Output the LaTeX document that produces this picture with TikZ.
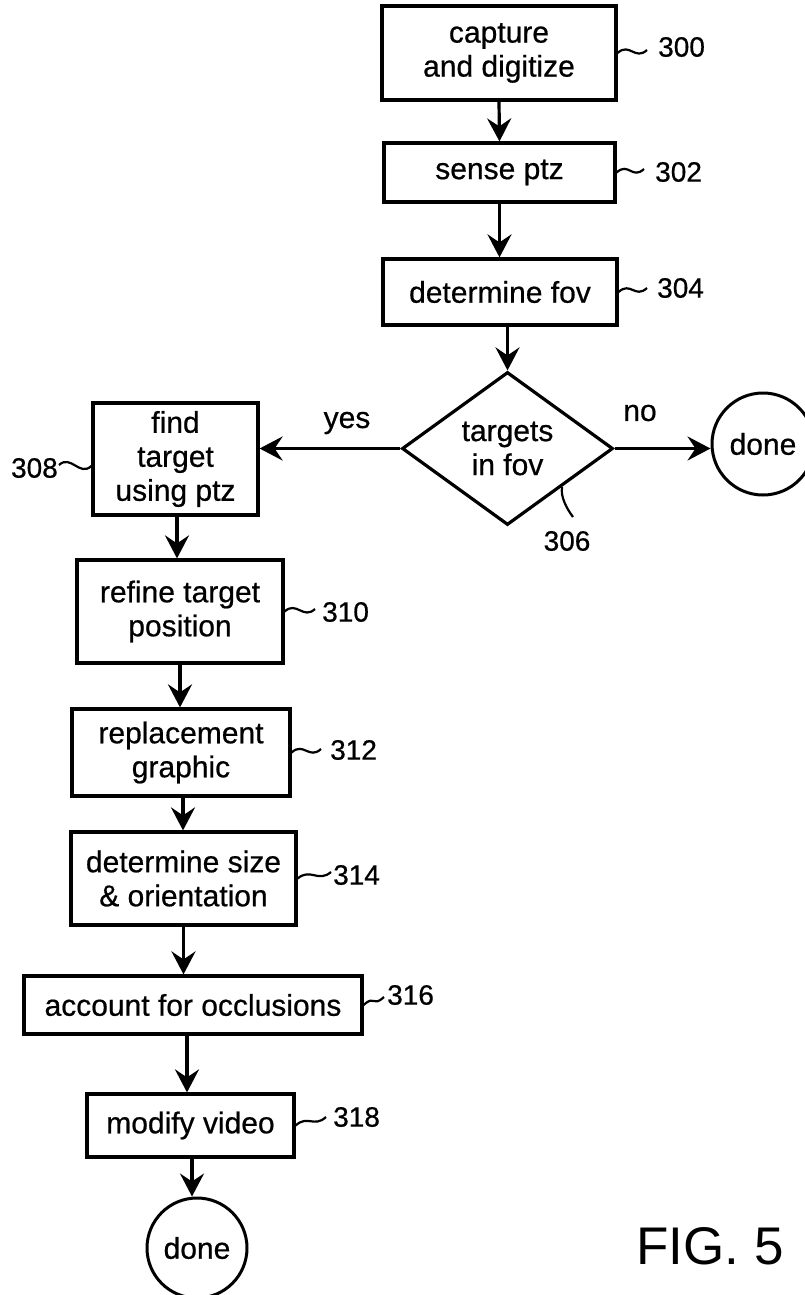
\documentclass[tikz,border=0pt]{standalone}
\usepackage{fontspec}
\setmainfont{Liberation Sans}[FakeBold=0.6,AutoFakeBold=0.6]
\newfontfamily\plainsans{Liberation Sans}
\usetikzlibrary{shapes.geometric,arrows.meta,calc}

\begin{document}
\begin{tikzpicture}[x=1pt,y=-1pt,
  txt/.style={font=\bfseries\fontsize{30}{34}\selectfont},
  box/.style={draw, line width=3.2pt, align=center, inner sep=0pt, txt},
  decision/.style={draw, diamond, line width=3.2pt, align=center, inner sep=0pt, txt},
  endpoint/.style={draw, circle, line width=3pt, inner sep=0pt, txt},
  arr/.style={line width=3.2pt, -{Stealth[length=23pt,width=24pt,inset=8pt]}},
  lead/.style={line width=2.2pt},
  reflab/.style={inner sep=0pt, font=\bfseries\fontsize{28}{30}\selectfont},
  branch/.style={inner sep=0pt, txt}
]
\clip (0,0) rectangle (805,1295);
\fill[white] (0,0) rectangle (805,1295);

% main column of steps
\node[box, minimum width=234pt, minimum height=94pt] (b300) at (499,53) {capture\\and digitize};
\node[box, minimum width=231pt, minimum height=59pt] (b302) at (499.5,172.5) {sense ptz};
\node[box, minimum width=234pt, minimum height=66pt] (b304) at (500,292) {determine fov};
\node[decision, minimum width=211pt, minimum height=153pt] (d306) at (507.5,448.5) {targets\\in fov};
\node[endpoint, minimum size=102pt] (done1) at (763,444) {done};

% left column of steps
\node[box, minimum width=165pt, minimum height=112pt] (b308) at (175.5,459) {find\\target\\using ptz};
\node[box, minimum width=206pt, minimum height=103pt] (b310) at (180,611.5) {refine target\\position};
\node[box, minimum width=218pt, minimum height=87pt] (b312) at (181,752.5) {replacement\\graphic};
\node[box, minimum width=225pt, minimum height=93pt] (b314) at (183.5,878.5) {determine size\\\& orientation};
\node[box, minimum width=338pt, minimum height=58pt] (b316) at (193,1005) {account for occlusions};
\node[box, minimum width=207pt, minimum height=63pt] (b318) at (190.5,1125.5) {modify video};
\node[endpoint, minimum size=100pt] (done2) at (197,1248) {done};

% flow connectors
\draw[arr] (b300.south) -- (b302.north);
\draw[arr] (b302.south) -- (b302.south |- b304.north);
\draw[arr] (b304.south -| d306.north) -- (d306.north);
\draw[arr] (d306.east) -- (d306.east -| done1.west);
\draw[arr] (d306.west) -- (d306.west -| b308.east);
\draw[arr] ([xshift=1.5pt]b308.south) -- ([xshift=1.5pt]b308.south |- b310.north);
\draw[arr] (b310.south) -- (b310.south |- b312.north);
\draw[arr] ([xshift=2pt]b312.south) -- ([xshift=2pt]b312.south |- b314.north);
\draw[arr] (b314.south) -- (b314.south |- b316.north);
\draw[arr] ([xshift=-3.5pt]b318.north |- b316.south) -- ([xshift=-3.5pt]b318.north);
\draw[arr] ([xshift=1.5pt]b318.south) -- ([xshift=1.5pt]b318.south |- done2.north);

% branch labels
\node[branch] (yes) at (347,423) {yes};
\node[branch] (no) at (640,413) {no};

% reference numerals with their leaders
\node[reflab, anchor=west] (l300) at (658,47) {300};
\node[reflab, anchor=west] (l302) at (655,172) {302};
\node[reflab, anchor=west] (l304) at (657,288) {304};
\node[reflab] (l306) at (567,541) {306};
\node[reflab, anchor=east] (l308) at (58,468) {308};
\node[reflab, anchor=west] (l310) at (322,612) {310};
\node[reflab, anchor=west] (l312) at (330,750) {312};
\node[reflab, anchor=west] (l314) at (333,875) {314};
\node[reflab, anchor=west] (l316) at (387,995) {316};
\node[reflab, anchor=west] (l318) at (333,1117) {318};

\coordinate (c300) at (647,50);
\coordinate (c302) at (644,169);
\coordinate (c304) at (647,288);
\coordinate (c308) at (59,465);
\coordinate (c310) at (315,609);
\coordinate (c312) at (321,749);
\coordinate (c314) at (331,872);
\coordinate (c316) at (384,997);
\coordinate (c318) at (326,1117);
\coordinate (c306) at (573,517);

\draw[lead] (b300.east) .. controls +(12,-11) and +(-12,11) .. (c300);
\draw[lead] (b302.east) .. controls +(12,-11) and +(-12,11) .. (c302);
\draw[lead] (b304.east) .. controls +(12,-11) and +(-12,11) .. (c304);
\draw[lead] (c308) .. controls +(12,-11) and +(-12,11) .. ([yshift=-7pt]b308.west);
\draw[lead] (b310.east) .. controls +(12,-11) and +(-12,11) .. (c310);
\draw[lead] (b312.east) .. controls +(12,-11) and +(-12,11) .. (c312);
\draw[lead] (b314.east) .. controls +(13,-11) and +(-13,11) .. (c314);
\draw[lead] (b316.east) .. controls +(12,-11) and +(-12,11) .. (c316);
\draw[lead] (b318.east) .. controls +(12,-11) and +(-12,11) .. (c318);
\draw[lead] ($(d306.east)!0.49!(d306.south)$) .. controls +(-2,10) and +(-6,-8) .. (c306);

% figure caption
\node[inner sep=0pt, font=\plainsans\fontsize{53}{56}\selectfont] (fig) at (710,1246) {FIG. 5};
\end{tikzpicture}
\end{document}
